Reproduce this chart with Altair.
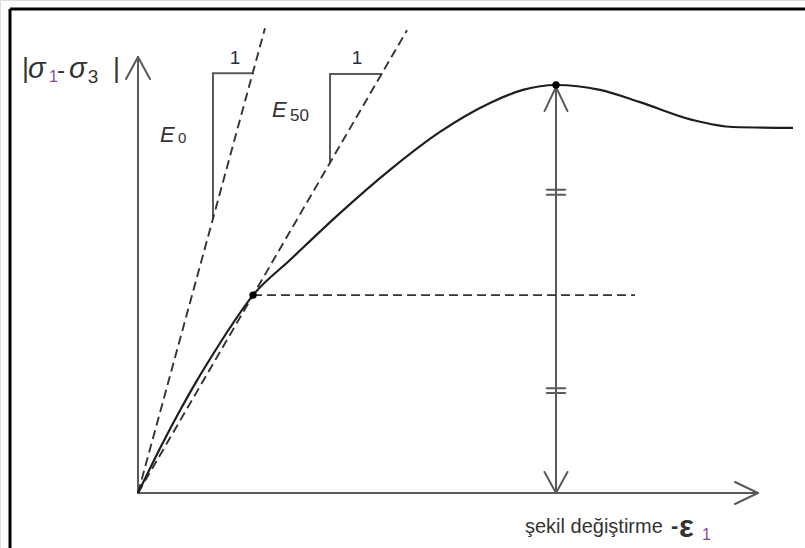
import altair as alt
import pandas as pd

# Deviator stress |s1 - s3| (normalised to the peak) against axial strain
strain = [0.0, 0.299, 0.502, 0.706, 0.897, 1.100, 1.376, 1.818, 2.416, 3.014,
          3.612, 4.211, 4.605, 5.0, 5.526, 6.005, 6.639, 7.117, 7.835]
stress = [0.0, 0.124, 0.202, 0.276, 0.340, 0.405, 0.485, 0.571, 0.686, 0.792,
          0.885, 0.956, 0.988, 1.0, 0.988, 0.958, 0.914, 0.897, 0.895]

peak_strain, peak_stress = 5.0, 1.0
half_strain, half_stress = 1.376, 0.485

# initial tangent modulus and secant modulus through the half-peak point
e0_slope = 0.75
e50_slope = half_stress / half_strain
e0_end = 1.519
e50_end = 3.218

# slope triangles: x of the vertical leg and y of the horizontal leg
e0_tri_x, e0_tri_y = 0.897, 1.029
e50_tri_x, e50_tri_y = 2.297, 1.027

# axis extents
x_axis_end = 7.416
y_axis_end = 1.0686
half_line_end = 5.945

# scale domains
x_domain = [-1.6507, 7.9785]
y_domain = [-0.1348, 1.2083]

W, H = 805, 548
xs = alt.Scale(domain=x_domain, nice=False, zero=False)
ys = alt.Scale(domain=y_domain, nice=False, zero=False)

AX = "#5a5a5a"
DARK = "#1e1e1e"
TXT = "#333333"
PURPLE = "#8a4a9a"
NAVY = "#25304a"

# arrowhead geometry (data units)
ah_x, ah_y = 0.1435, 0.054     # vertical arrows
ahx_x, ahx_y = 0.275, 0.027    # horizontal arrow
tick_half = 0.11

solid = [
    # axes
    (0, 0, 0, y_axis_end),
    (-ah_x, y_axis_end - ah_y, 0, y_axis_end),
    (ah_x, y_axis_end - ah_y, 0, y_axis_end),
    (0, 0, x_axis_end, 0),
    (x_axis_end - ahx_x, ahx_y, x_axis_end, 0),
    (x_axis_end - ahx_x, -ahx_y, x_axis_end, 0),
    # double arrow at the peak
    (peak_strain, 0, peak_strain, peak_stress - 0.005),
    (peak_strain - 0.1375, 0.936, peak_strain, 0.995),
    (peak_strain + 0.1375, 0.936, peak_strain, 0.995),
    (peak_strain - 0.1375, 0.0515, peak_strain, 0),
    (peak_strain + 0.1375, 0.0515, peak_strain, 0),
    # equal-length marks
    (peak_strain - tick_half, 0.743, peak_strain + tick_half, 0.743),
    (peak_strain - tick_half, 0.731, peak_strain + tick_half, 0.731),
    (peak_strain - tick_half, 0.257, peak_strain + tick_half, 0.257),
    (peak_strain - tick_half, 0.245, peak_strain + tick_half, 0.245),
    # slope triangles
    (e0_tri_x, e0_tri_x * e0_slope, e0_tri_x, e0_tri_y),
    (e0_tri_x, e0_tri_y, e0_tri_y / e0_slope, e0_tri_y),
    (e50_tri_x, e50_tri_x * e50_slope, e50_tri_x, e50_tri_y),
    (e50_tri_x, e50_tri_y, e50_tri_y / e50_slope, e50_tri_y),
]

dashed = [
    (0, 0, e0_end, e0_end * e0_slope),
    (0, 0, e50_end, e50_end * e50_slope),
    (half_strain, half_stress, half_line_end, half_stress),
]

frame_left, frame_top = -1.531, 1.186
frame = [
    (frame_left, frame_top, x_domain[1], frame_top),
    (frame_left, y_domain[0], frame_left, frame_top),
]

def seg_df(rows):
    return pd.DataFrame(rows, columns=["x", "y", "x2", "y2"])

def rules(rows, color, width, dash=None, cap="round"):
    kw = dict(color=color, strokeWidth=width, strokeCap=cap)
    if dash:
        kw["strokeDash"] = dash
    return alt.Chart(seg_df(rows)).mark_rule(**kw).encode(
        x=alt.X("x:Q", scale=xs, axis=None),
        y=alt.Y("y:Q", scale=ys, axis=None),
        x2="x2:Q",
        y2="y2:Q",
    )

curve_df = pd.DataFrame({"strain": strain, "stress": stress})
curve = alt.Chart(curve_df).mark_line(
    color=DARK, strokeWidth=2.2, interpolate="monotone"
).encode(
    x=alt.X("strain:Q", scale=xs, axis=None),
    y=alt.Y("stress:Q", scale=ys, axis=None),
)

dots_df = pd.DataFrame({"strain": [half_strain, peak_strain],
                        "stress": [half_stress, peak_stress]})
dots = alt.Chart(dots_df).mark_circle(color="#000000", size=55, opacity=1).encode(
    x=alt.X("strain:Q", scale=xs, axis=None),
    y=alt.Y("stress:Q", scale=ys, axis=None),
)

# text pieces: (text, x, y, size, style, weight, color, align)
labels = [
    ("|", -1.388, 1.0196, 27, "normal", "normal", TXT, "left"),
    ("σ", -1.316, 1.017, 29, "italic", "normal", TXT, "left"),
    ("1", -1.065, 1.007, 16, "normal", "normal", PURPLE, "left"),
    ("-", -0.969, 1.017, 24, "normal", "normal", TXT, "left"),
    ("σ", -0.825, 1.017, 29, "italic", "normal", TXT, "left"),
    ("3", -0.600, 1.005, 19, "normal", "normal", TXT, "left"),
    ("|", -0.299, 1.0196, 27, "normal", "normal", TXT, "left"),
    ("E", 0.263, 0.860, 22, "italic", "normal", TXT, "left"),
    ("0", 0.478, 0.858, 15, "normal", "normal", TXT, "left"),
    ("E", 1.603, 0.922, 22, "italic", "normal", TXT, "left"),
    ("50", 1.818, 0.912, 17, "normal", "normal", TXT, "left"),
    ("1", 1.160, 1.051, 19, "normal", "normal", NAVY, "center"),
    ("1", 2.620, 1.051, 19, "normal", "normal", NAVY, "center"),
    ("şekil değiştirme", 4.629, -0.098, 20, "normal", "normal", TXT, "left"),
    ("-", 6.376, -0.098, 22, "normal", "bold", TXT, "left"),
    ("ε", 6.470, -0.108, 31, "normal", "bold", TXT, "left"),
    ("1", 6.746, -0.115, 16, "normal", "normal", PURPLE, "left"),
]

text_layers = []
for t, x, y, size, style, weight, color, align in labels:
    df = pd.DataFrame({"x": [x], "y": [y], "t": [t]})
    text_layers.append(
        alt.Chart(df).mark_text(
            font="Liberation Sans", fontSize=size, fontStyle=style,
            fontWeight=weight, color=color, align=align, baseline="alphabetic",
        ).encode(
            x=alt.X("x:Q", scale=xs, axis=None),
            y=alt.Y("y:Q", scale=ys, axis=None),
            text="t:N",
        )
    )

chart = alt.layer(
    rules(frame, "#000000", 3, cap="butt"),
    rules(solid, AX, 2),
    rules(dashed, "#333333", 1.9, dash=[9, 5], cap="butt"),
    curve,
    dots,
    *text_layers,
).properties(
    width=W, height=H, padding=0,
    autosize=alt.AutoSizeParams(type="none"),
).configure_view(stroke=None).configure(background="#ffffff")

chart.save("out.html", embed_options={"renderer": "svg", "actions": False})
